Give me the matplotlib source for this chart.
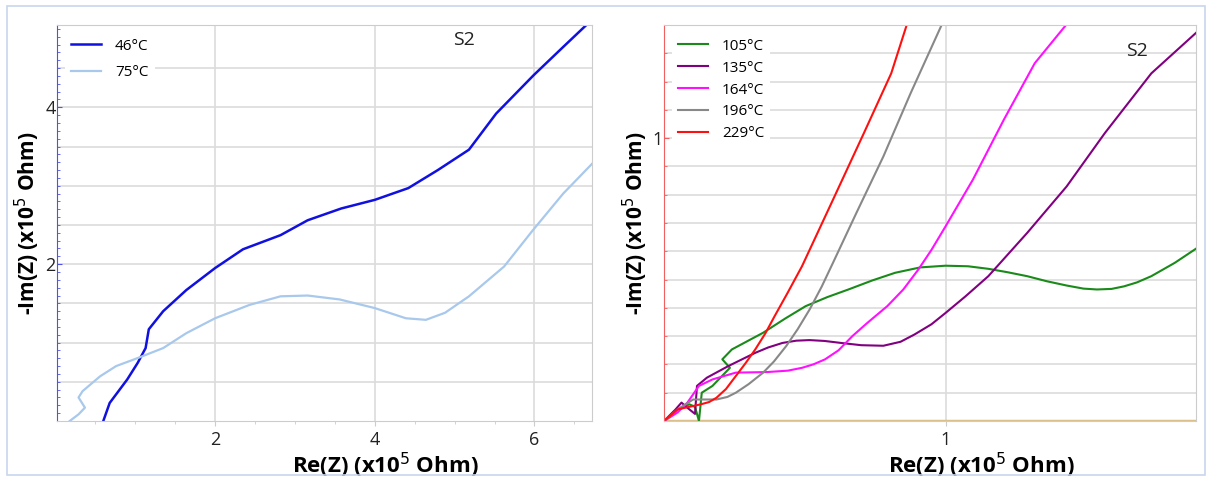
import matplotlib
matplotlib.use("Agg")
import matplotlib.pyplot as plt
from matplotlib.patches import Rectangle
from matplotlib.ticker import MultipleLocator

plt.rcParams['font.family'] = ['Open Sans', 'DejaVu Sans']

# left panel: 46 and 75 C
x46 = [0.60, 0.68, 0.90, 1.03, 1.13, 1.17, 1.35, 1.64, 2.00, 2.35, 2.82, 3.16, 3.58, 4.00,
       4.42, 4.79, 5.18, 5.52, 5.99, 6.36, 6.64]
y46 = [0.00, 0.23, 0.53, 0.74, 0.93, 1.17, 1.40, 1.67, 1.95, 2.19, 2.37, 2.56, 2.71, 2.82,
       2.97, 3.20, 3.46, 3.92, 4.41, 4.77, 5.04]
x75 = [0.18, 0.29, 0.37, 0.29, 0.34, 0.56, 0.76, 1.05, 1.35, 1.64, 2.00, 2.43, 2.82, 3.16,
       3.56, 4.00, 4.39, 4.64, 4.88, 5.18, 5.62, 5.97, 6.36, 6.75]
y75 = [0.00, 0.085, 0.17, 0.30, 0.38, 0.57, 0.70, 0.81, 0.93, 1.12, 1.31, 1.48, 1.59, 1.60,
       1.55, 1.44, 1.31, 1.29, 1.38, 1.59, 1.97, 2.42, 2.90, 3.31]

# right panel: 105 .. 229 C
x105 = [0.0, 0.048, 0.09, 0.11, 0.124, 0.134, 0.172, 0.234, 0.207, 0.241, 0.352, 0.43, 0.503,
        0.58, 0.655, 0.74, 0.821, 0.91, 1.0, 1.08, 1.152, 1.22, 1.29, 1.36, 1.43, 1.49, 1.538,
        1.59, 1.634, 1.68, 1.731, 1.814, 1.894]
y105 = [0.0, 0.041, 0.059, 0.05, 0.0, 0.10, 0.124, 0.188, 0.218, 0.253, 0.312, 0.362, 0.406,
        0.438, 0.465, 0.497, 0.524, 0.543, 0.549, 0.547, 0.538, 0.526, 0.512, 0.494, 0.479,
        0.468, 0.465, 0.467, 0.476, 0.49, 0.512, 0.559, 0.612]
x135 = [0.0, 0.04, 0.062, 0.085, 0.11, 0.117, 0.152, 0.228, 0.324, 0.37, 0.421, 0.47, 0.517,
        0.57, 0.628, 0.70, 0.779, 0.84, 0.89, 0.95, 1.0, 1.07, 1.152, 1.29, 1.43, 1.566,
        1.731, 1.894]
y135 = [0.0, 0.04, 0.065, 0.045, 0.025, 0.124, 0.153, 0.194, 0.241, 0.26, 0.276, 0.284, 0.286,
        0.283, 0.276, 0.268, 0.266, 0.28, 0.306, 0.342, 0.382, 0.44, 0.512, 0.665, 0.829,
        1.018, 1.229, 1.376]
x164 = [0.0, 0.048, 0.083, 0.124, 0.172, 0.255, 0.366, 0.44, 0.49, 0.53, 0.572, 0.62, 0.669,
        0.72, 0.793, 0.85, 0.903, 0.95, 1.0, 1.097, 1.207, 1.317, 1.428]
y164 = [0.0, 0.03, 0.065, 0.124, 0.147, 0.171, 0.173, 0.178, 0.188, 0.20, 0.218, 0.25, 0.30,
        0.345, 0.406, 0.465, 0.535, 0.605, 0.688, 0.853, 1.065, 1.265, 1.40]
x196 = [0.0, 0.048, 0.103, 0.186, 0.225, 0.255, 0.30, 0.352, 0.39, 0.434, 0.475, 0.517, 0.56,
        0.60, 0.683, 0.779, 0.876, 0.986]
y196 = [0.0, 0.041, 0.076, 0.076, 0.085, 0.10, 0.13, 0.171, 0.21, 0.265, 0.325, 0.394, 0.475,
        0.559, 0.735, 0.935, 1.159, 1.40]
x229 = [0.0, 0.048, 0.131, 0.16, 0.186, 0.22, 0.255, 0.29, 0.324, 0.36, 0.393, 0.44, 0.49,
        0.60, 0.71, 0.807, 0.862]
y229 = [0.0, 0.041, 0.059, 0.067, 0.082, 0.113, 0.159, 0.205, 0.253, 0.31, 0.371, 0.455, 0.547,
        0.782, 1.018, 1.229, 1.40]

fig = plt.figure(figsize=(12.1, 4.79), dpi=100)
fig.patches.append(Rectangle((7 / 1210, 4 / 479), 1198 / 1210, 469 / 479, transform=fig.transFigure,
                             fill=False, edgecolor='#c9d5ee', linewidth=1.2))

ax1 = fig.add_axes([0.0471, 0.1211, 0.4421, 0.8267])
ax2 = fig.add_axes([0.5488, 0.1211, 0.4397, 0.8267])

ax1.plot(x46, y46, color='#1010e0', lw=1.8, label='46°C')
ax1.plot(x75, y75, color='#a8c8ec', lw=1.6, label='75°C')
ax1.set_xlim(0.02, 6.72)
ax1.set_ylim(0, 5.05)
ax1.set_xticks([2, 4, 6])
ax1.set_yticks([2, 4])
ax1.xaxis.set_minor_locator(MultipleLocator(0.5))
ax1.yaxis.set_minor_locator(MultipleLocator(0.1))
for v in [0.5, 1, 1.5, 2, 2.5, 3, 3.5, 4, 4.5]:
    ax1.axhline(v, color='#dcdcdc', lw=1.2, zorder=0)
for v in [2, 4, 6]:
    ax1.axvline(v, color='#dcdcdc', lw=1.2, zorder=0)
ax1.spines['left'].set_color('#5050f0')
ax1.tick_params(axis='y', which='both', colors='#5050f0', labelcolor='#222222', direction='in')
ax1.text(4.98, 4.8, 'S2', fontsize=14, color='#222222')

ax2.axhline(0, color='#dcc088', lw=2.5, zorder=1)
ax2.plot(x105, y105, color='#1a8a1a', lw=1.5, label='105°C')
ax2.plot(x135, y135, color='#800080', lw=1.5, label='135°C')
ax2.plot(x164, y164, color='#ff10ff', lw=1.5, label='164°C')
ax2.plot(x196, y196, color='#888888', lw=1.5, label='196°C')
ax2.plot(x229, y229, color='#ff1010', lw=1.5, label='229°C')
ax2.set_xlim(0, 1.89)
ax2.set_ylim(0, 1.4)
ax2.set_xticks([1])
ax2.set_yticks([1])
ax2.yaxis.set_minor_locator(MultipleLocator(0.1))
for v in [0.1 * i for i in range(1, 14)]:
    ax2.axhline(v, color='#dcdcdc', lw=1.2, zorder=0)
ax2.axvline(1, color='#dcdcdc', lw=1.2, zorder=0)
ax2.spines['left'].set_color('#f06060')
ax2.tick_params(axis='y', which='both', colors='#f06060', labelcolor='#222222', direction='in')
ax2.text(1.64, 1.29, 'S2', fontsize=14, color='#222222')

for ax, sp, lx in ((ax1, 0.75, 0.613), (ax2, 0.45, 0.596)):
    for s in ('top', 'right', 'bottom'):
        ax.spines[s].set_color('#cccccc')
    ax.tick_params(axis='x', which='both', colors='#cccccc', labelcolor='#222222')
    ax.tick_params(labelsize=13)
    ax.tick_params(axis='y', pad=1)
    ax.set_xlabel('Re(Z) (x10$^5$ Ohm)', fontsize=16, fontweight='bold')
    ax.xaxis.set_label_coords(lx, -0.075)
    ax.set_ylabel('-Im(Z) (x10$^5$ Ohm)', fontsize=15, fontweight='bold', labelpad=2)
    leg = ax.legend(loc='upper left', frameon=True, fontsize=11, handlelength=2.0,
                    labelspacing=sp, borderaxespad=0.5, handletextpad=0.9)
    leg.get_frame().set_edgecolor('none')
    leg.get_frame().set_facecolor('white')
    leg.get_frame().set_alpha(1)

fig.savefig('out.png', dpi=100)
